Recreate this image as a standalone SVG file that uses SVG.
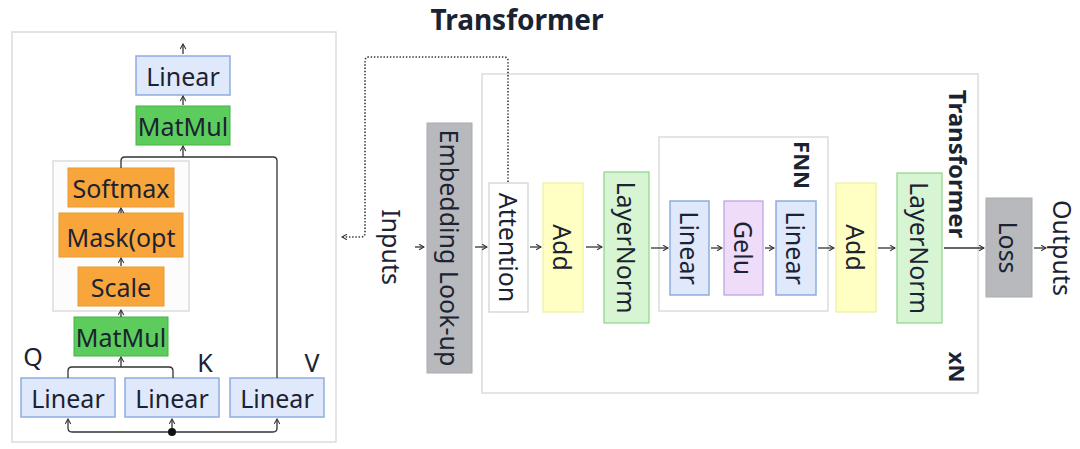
<svg xmlns="http://www.w3.org/2000/svg" width="1080" height="449" viewBox="0 0 1080 449">
<style>
text{font-family:"Noto Sans","Open Sans","DejaVu Sans",sans-serif;fill:#1b2232;}
.t{font-size:25px;text-anchor:middle;dominant-baseline:central;}
.b{font-weight:bold;}
.lin{fill:#dfe9fb;stroke:#8eacdf;stroke-width:1.5;}
.mm{fill:#5ccc5c;stroke:#45b045;stroke-width:1;}
.or{fill:#f8a63c;stroke:#e69a30;stroke-width:1;}
.grp{fill:none;stroke:#dcdcdc;stroke-width:1.5;}
.emb{fill:#b7b9bd;stroke:#a9abaf;stroke-width:1;}
.att{fill:#fff;stroke:#cfcfcf;stroke-width:1.2;}
.add{fill:#ffffc4;stroke:#eeeea0;stroke-width:1.2;}
.ln{fill:#d7f5d3;stroke:#8ed38a;stroke-width:1.2;}
.gelu{fill:#eedcf9;stroke:#b99fe0;stroke-width:1.2;}
.c{fill:none;stroke:#333;stroke-width:1.3;}
.dot{fill:none;stroke:#333;stroke-width:1.6;stroke-dasharray:1.4 1.8;}
</style>
<defs>
<marker id="ah" viewBox="0 0 10 10" refX="9" refY="5" markerWidth="7" markerHeight="7" orient="auto-start-reverse" markerUnits="userSpaceOnUse">
<path d="M2,1 L9,5 L2,9" fill="none" stroke="#333" stroke-width="1.5"/>
</marker>
</defs>
<rect width="1080" height="449" fill="#fff"/>

<!-- Left attention panel -->
<g id="attention-panel">
<rect x="12" y="32" width="324" height="410" class="grp"/>
<rect x="53" y="161" width="136" height="150" fill="#fcfcfc" stroke="#dcdcdc" stroke-width="1.5"/>
</g>
<g id="linear-out"><rect x="136" y="56" width="94" height="39" class="lin"/><text x="183" y="76" class="t">Linear</text></g>
<g id="matmul-top"><rect x="136" y="106" width="94" height="39" class="mm"/><text x="183" y="126" class="t">MatMul</text></g>
<g id="softmax"><rect x="68" y="168" width="106" height="39" class="or"/><text x="121" y="188" class="t">Softmax</text></g>
<g id="mask"><rect x="59" y="213" width="124" height="44" class="or"/><text x="121" y="237" class="t">Mask(opt</text></g>
<g id="scale"><rect x="78" y="267" width="86" height="39" class="or"/><text x="121" y="287" class="t">Scale</text></g>
<g id="matmul-bottom"><rect x="74" y="317" width="94" height="39" class="mm"/><text x="121" y="337" class="t">MatMul</text></g>
<g id="linear-q"><rect x="21" y="378" width="94" height="39" class="lin"/><text x="68" y="398" class="t">Linear</text></g>
<g id="linear-k"><rect x="125" y="378" width="94" height="39" class="lin"/><text x="172" y="398" class="t">Linear</text></g>
<g id="linear-v"><rect x="230" y="378" width="94" height="39" class="lin"/><text x="277" y="398" class="t">Linear</text></g>
<g id="labels-qkv">
<text x="33" y="356" class="t">Q</text>
<text x="205" y="362" class="t">K</text>
<text x="312" y="362" class="t">V</text>
</g>

<!-- Main transformer -->
<g id="title"><text x="517" y="19" class="t b" style="font-size:28px">Transformer</text></g>
<g id="transformer-block">
<rect x="482" y="74" width="496" height="319" class="grp"/>
<text transform="translate(958,164) rotate(90)" class="t b" style="font-size:24px">Transformer</text>
<text transform="translate(958,367) rotate(90)" class="t b" style="font-size:22px">xN</text>
</g>
<g id="inputs"><text transform="translate(392,247) rotate(90)" class="t">Inputs</text></g>
<g id="embedding"><rect x="427" y="123" width="45" height="250" class="emb"/><text transform="translate(449.5,248) rotate(90)" class="t">Embedding Look-up</text></g>
<g id="attention"><rect x="489" y="183" width="39" height="129" class="att"/><text transform="translate(508.5,247.5) rotate(90)" class="t">Attention</text></g>
<g id="add1"><rect x="543" y="183" width="40" height="129" class="add"/><text transform="translate(563,247.5) rotate(90)" class="t">Add</text></g>
<g id="layernorm1"><rect x="604" y="172" width="45" height="151" class="ln"/><text transform="translate(626.5,247.5) rotate(90)" class="t">LayerNorm</text></g>
<g id="fnn"><rect x="659" y="137" width="169" height="174" class="grp"/><text transform="translate(803,165) rotate(90)" class="t b" style="font-size:22px">FNN</text></g>
<g id="fnn-linear1"><rect x="670" y="201" width="39" height="94" class="lin"/><text transform="translate(689.5,248) rotate(90)" class="t">Linear</text></g>
<g id="gelu"><rect x="724" y="201" width="39" height="94" class="gelu"/><text transform="translate(743.5,248) rotate(90)" class="t">Gelu</text></g>
<g id="fnn-linear2"><rect x="776" y="201" width="40" height="94" class="lin"/><text transform="translate(796,248) rotate(90)" class="t">Linear</text></g>
<g id="add2"><rect x="836" y="183" width="40" height="129" class="add"/><text transform="translate(856,247.5) rotate(90)" class="t">Add</text></g>
<g id="layernorm2"><rect x="897" y="173" width="45" height="150" class="ln"/><text transform="translate(919.5,248) rotate(90)" class="t">LayerNorm</text></g>
<g id="loss"><rect x="986" y="198" width="46" height="99" class="emb"/><text transform="translate(1009,247.5) rotate(90)" class="t">Loss</text></g>
<g id="outputs"><text transform="translate(1063,248) rotate(90)" class="t">Outputs</text></g>

<g id="connectors">
<!-- left panel -->
<line x1="183" y1="54" x2="183" y2="44" class="c" marker-end="url(#ah)"/>
<line x1="183" y1="105" x2="183" y2="96" class="c" marker-end="url(#ah)"/>
<path d="M121,168 V161 Q121,157 125,157 H273 Q277,157 277,161 V378" class="c"/>
<line x1="183" y1="157" x2="183" y2="146" class="c" marker-end="url(#ah)"/>
<line x1="121" y1="213" x2="121" y2="208" class="c" marker-end="url(#ah)"/>
<line x1="121" y1="266" x2="121" y2="258" class="c" marker-end="url(#ah)"/>
<line x1="121" y1="317" x2="121" y2="310" class="c" marker-end="url(#ah)"/>
<path d="M68,378 V371 Q68,367 72,367 H169 Q173,367 173,371 V378" class="c"/>
<line x1="121" y1="367" x2="121" y2="357" class="c" marker-end="url(#ah)"/>
<path d="M68,419 V428 Q68,432 72,432 H273 Q277,432 277,428 V419" class="c" marker-start="url(#ah)" marker-end="url(#ah)"/>
<line x1="172" y1="432" x2="172" y2="419" class="c" marker-end="url(#ah)"/>
<circle cx="172" cy="432" r="4" fill="#111"/>
<!-- main flow -->
<path d="M508,182 V61 Q508,57 504,57 H369 Q365,57 365,61 V233 Q365,237 361,237 H342" class="dot" marker-end="url(#ah)"/>
<line x1="415" y1="247" x2="424" y2="247" class="c" marker-end="url(#ah)"/>
<line x1="475" y1="247" x2="487" y2="247" class="c" marker-end="url(#ah)"/>
<line x1="530" y1="247" x2="541" y2="247" class="c" marker-end="url(#ah)"/>
<line x1="586" y1="247" x2="602" y2="247" class="c" marker-end="url(#ah)"/>
<line x1="651" y1="248" x2="668" y2="248" class="c" marker-end="url(#ah)"/>
<line x1="711" y1="248" x2="722" y2="248" class="c" marker-end="url(#ah)"/>
<line x1="765" y1="248" x2="774" y2="248" class="c" marker-end="url(#ah)"/>
<line x1="818" y1="248" x2="834" y2="248" class="c" marker-end="url(#ah)"/>
<line x1="878" y1="248" x2="895" y2="248" class="c" marker-end="url(#ah)"/>
<line x1="944" y1="248" x2="984" y2="248" class="c" marker-end="url(#ah)"/>
<line x1="1034" y1="248" x2="1046" y2="248" class="c" marker-end="url(#ah)"/>
</g>
</svg>
